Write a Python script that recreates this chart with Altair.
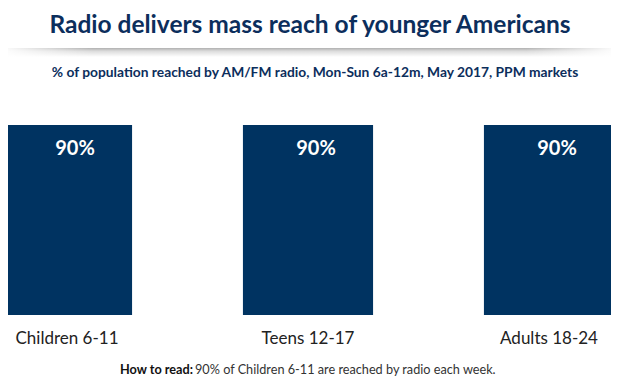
import altair as alt
import pandas as pd

categories = ["Children 6-11", "Teens 12-17", "Adults 18-24"]
values = [90, 90, 90]

title_text = "Radio delivers mass reach of younger Americans"
subtitle_text = "% of population reached by AM/FM radio, Mon-Sun 6a-12m, May 2017, PPM markets"
note_bold = "How to read:"
note_rest = "90% of Children 6-11 are reached by radio each week."

NAVY = "#003361"
TITLE_C = "#0c2e5c"
FONT = "Lato"

df = pd.DataFrame({"category": categories, "value": values})
df["label"] = [f"{v}%" for v in values]

W, H = 603, 211

xenc = alt.X("category:N", sort=categories,
             scale=alt.Scale(range=[-61.5, 661.5], paddingInner=0.46, paddingOuter=0.23),
             axis=alt.Axis(title=None, domain=False, ticks=False, grid=False, labelAngle=0,
                           labelFont=FONT, labelFontSize=17, labelColor="#222222",
                           labelPadding=15))
yenc = alt.Y("value:Q", scale=alt.Scale(domain=[0, 100], nice=False), axis=None)

base = alt.Chart(df)
bars = base.mark_bar(color=NAVY).encode(x=xenc, y=yenc)
labels = base.mark_text(color="white", font=FONT, fontWeight="bold", fontSize=20,
                        baseline="alphabetic", dy=30, dx=8).encode(
    x=alt.X("category:N", sort=categories), y="value:Q", text="label:N")

one = pd.DataFrame({"a": [0]})
ann = alt.Chart(one)

title = ann.mark_text(font=FONT, fontWeight="bold", fontSize=24.5, color=TITLE_C,
                      align="center", baseline="alphabetic").encode(
    x=alt.value(302), y=alt.value(-71), text=alt.value(title_text))
subtitle = ann.mark_text(font=FONT, fontWeight="bold", fontSize=13.8, color=TITLE_C,
                         align="center", baseline="alphabetic").encode(
    x=alt.value(307), y=alt.value(-27), text=alt.value(subtitle_text))

shadow = ann.mark_rect(fill=alt.Gradient(
    gradient="linear", x1=0, y1=0, x2=0, y2=1,
    stops=[alt.GradientStop(color="#b0b0b0", offset=0),
           alt.GradientStop(color="#dcdcdc", offset=0.35),
           alt.GradientStop(color="#ffffff", offset=1)])).encode(
    x=alt.value(-8), x2=alt.value(611), y=alt.value(-56), y2=alt.value(-47))
fade = ann.mark_rect(fill=alt.Gradient(
    gradient="linear", x1=0, y1=0, x2=1, y2=0,
    stops=[alt.GradientStop(color="rgba(255,255,255,1)", offset=0),
           alt.GradientStop(color="rgba(255,255,255,0)", offset=0.15),
           alt.GradientStop(color="rgba(255,255,255,0)", offset=0.85),
           alt.GradientStop(color="rgba(255,255,255,1)", offset=1)])).encode(
    x=alt.value(-8), x2=alt.value(611), y=alt.value(-57), y2=alt.value(-46))

note1 = ann.mark_text(font=FONT, fontWeight="bold", fontSize=12.7, color="#111111",
                      align="right", baseline="alphabetic").encode(
    x=alt.value(185), y=alt.value(270), text=alt.value(note_bold))
note2 = ann.mark_text(font=FONT, fontSize=12.7, color="#333333",
                      align="left", baseline="alphabetic").encode(
    x=alt.value(187), y=alt.value(270), text=alt.value(note_rest))

chart = alt.layer(shadow, fade, title, subtitle, bars, labels, note1, note2).properties(
    width=W, height=H,
    autosize=alt.AutoSizeParams(type="none"),
    padding={"left": 0, "right": 0, "top": 96, "bottom": 64},
    background="white",
).configure_view(stroke=None)

chart.save("out.html", embed_options={"renderer": "svg", "actions": False})
